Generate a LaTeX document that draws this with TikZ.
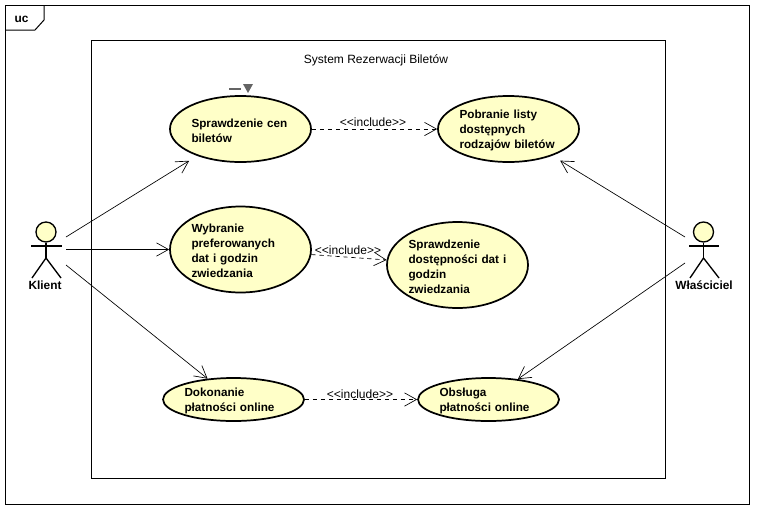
\documentclass[tikz,border=0pt]{standalone}
\usepackage{fontspec}
\setmainfont{Liberation Sans}
\usepackage{tikz}
\usetikzlibrary{shapes.geometric, arrows.meta}
\definecolor{ucFill}{RGB}{255, 255, 200}
\definecolor{ucGray}{RGB}{100, 100, 100}
\tikzset{
    usecase/.style={
        ellipse,
        draw=black,
        line width=1.3pt,
        fill=ucFill,
        inner xsep=0pt,
        inner ysep=-1.5pt,
        minimum width=105.75pt,
        text width=73.5pt,
        align=left,
        execute at begin node=\rule{0pt}{8.8pt},
        font=\fontsize{8.8}{11.25}\selectfont\bfseries
    },
    head/.style={
        circle,
        draw=black,
        line width=1pt,
        fill=ucFill,
        inner sep=0pt,
        minimum size=15pt
    },
    limb/.style={
        line width=1pt,
        black
    },
    actorname/.style={
        font=\fontsize{8.9}{10}\selectfont\bfseries,
        inner sep=0pt
    },
    caption/.style={
        font=\fontsize{9}{10}\selectfont,
        inner sep=0pt
    },
    assoc/.style={
        -{Straight Barb[length=9pt,width=10pt]},
        line width=0.5pt
    },
    incl/.style={
        assoc,
        dash pattern=on 3.2pt off 2.8pt
    }
}
\begin{document}
\begin{tikzpicture}[x=0.75pt, y=-0.75pt]
    \useasboundingbox (0,0) rectangle (759,511);

    % Frame
    \draw[line width=0.75pt] (5,5) rectangle (749,504);
    \draw[line width=0.75pt] (5,30) -- (35,30) -- (44,20) -- (44,5);
    \node[actorname] (frameName) at (21.5,19.5) {uc};

    % System
    \draw[line width=0.75pt] (91,40) rectangle (665,478);
    \node[caption] (systemName) at (376,60) {System Rezerwacji Biletów};

    % Use cases
    \node[usecase, minimum height=49.5pt] (checkPrices) at (240.5,129) {Sprawdzenie cen\\biletów};
    \node[usecase, minimum height=49.5pt] (fetchTypes) at (508.5,129) {Pobranie listy\\dostępnych\\rodzajów biletów};
    \node[usecase, minimum height=64.5pt] (chooseDates) at (240.5,249.5) {Wybranie\\preferowanych\\dat i godzin\\zwiedzania};
    \node[usecase, minimum height=64.5pt] (checkDates) at (457.5,265) {Sprawdzenie\\dostępności dat i\\godzin\\zwiedzania};
    \node[usecase, minimum height=32.25pt] (makePayment) at (233.5,399.5) {Dokonanie\\płatności online};
    \node[usecase, minimum height=32.25pt] (handlePayment) at (488.5,399.5) {Obsługa\\płatności online};

    % Marker above the first use case
    \fill[ucGray] (229,88) rectangle (241,90);
    \fill[ucGray] (243,84) -- (253,84) -- (248,93) -- cycle;

    % Klient
    \node[head] (klientHead) at (46,232) {};
    \coordinate (klientHip) at (46,258);
    \coordinate (klientArmL) at (31,246);
    \coordinate (klientArmR) at (62,246);
    \coordinate (klientLegL) at (32,278);
    \coordinate (klientLegR) at (61,278);
    \draw[limb] (klientHead) -- (klientHip);
    \draw[limb] (klientArmL) -- (klientArmR);
    \draw[limb] (klientLegL) -- (klientHip) -- (klientLegR);
    \node[actorname] (klient) at (45,285.5) {Klient};

    % Wlasciciel
    \node[head] (ownerHead) at (703.5,232) {};
    \coordinate (ownerHip) at (703.5,258);
    \coordinate (ownerArmL) at (689,246);
    \coordinate (ownerArmR) at (719,246);
    \coordinate (ownerLegL) at (690,278);
    \coordinate (ownerLegR) at (719,278);
    \draw[limb] (ownerHead) -- (ownerHip);
    \draw[limb] (ownerArmL) -- (ownerArmR);
    \draw[limb] (ownerLegL) -- (ownerHip) -- (ownerLegR);
    \node[actorname] (owner) at (704,285.5) {Właściciel};

    % Associations
    \coordinate (klientOutA) at (66,237);
    \coordinate (klientOutB) at (66,249.5);
    \coordinate (klientOutC) at (66,265);
    \coordinate (ownerOutA) at (685,237);
    \coordinate (ownerOutB) at (685,263);
    \draw[assoc, shorten >=7pt] (klientOutA) -- (checkPrices);
    \draw[assoc] (klientOutB) -- (chooseDates);
    \draw[assoc] (klientOutC) -- (makePayment);
    \draw[assoc, shorten >=7pt] (ownerOutA) -- (fetchTypes);
    \draw[assoc] (ownerOutB) -- (handlePayment);

    % Includes
    \draw[incl] (checkPrices) -- (fetchTypes);
    \draw[incl] (chooseDates) -- (checkDates);
    \draw[incl] (makePayment) -- (handlePayment);
    \node[caption] (inclA) at (373,122.5) {<{}<include>{}>};
    \node[caption] (inclB) at (348,250.5) {<{}<include>{}>};
    \node[caption] (inclC) at (360,394.5) {<{}<include>{}>};
\end{tikzpicture}
\end{document}
